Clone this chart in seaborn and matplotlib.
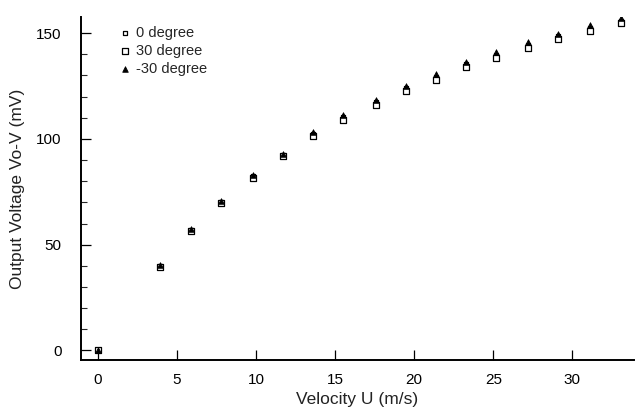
import matplotlib
matplotlib.use("Agg")
import matplotlib.pyplot as plt
from matplotlib.ticker import MultipleLocator
import numpy as np
import pandas as pd
import seaborn as sns

# Flow velocity (m/s) and sensor output (mV) for three probe angles
velocity = [0, 3.9, 5.9, 7.8, 9.8, 11.7, 13.6, 15.5, 17.6, 19.5, 21.4,
            23.3, 25.2, 27.2, 29.1, 31.1, 33.1]
volt_0deg = [0.2, 39.9, 56.9, 70.0, 82.3, 92.3, 102.2, 110.2, 117.3, 124.0,
             129.3, 135.3, 139.7, 144.3, 148.6, 152.5, 155.8]
volt_30deg = [0.0, 39.6, 56.5, 69.5, 81.6, 92.0, 101.2, 109.0, 116.0, 122.7,
              127.9, 134.0, 138.4, 143.0, 147.3, 151.2, 154.6]
volt_m30deg = [0.3, 40.4, 57.2, 70.6, 83.0, 93.0, 103.3, 111.2, 118.5, 125.2,
               130.5, 136.5, 141.0, 145.6, 149.8, 153.6, 156.9]

labels = ["0 degree", "30 degree", "-30 degree"]

df = pd.DataFrame({
    "U": velocity * 3,
    "V": volt_0deg + volt_30deg + volt_m30deg,
    "angle": [labels[0]] * len(velocity) + [labels[1]] * len(velocity)
             + [labels[2]] * len(velocity),
})

sns.set_style("ticks")
plt.rcParams["font.family"] = ["Liberation Sans", "DejaVu Sans"]

fig = plt.figure(figsize=(6.37, 4.09), dpi=100)
ax = fig.add_axes([81 / 637, 49 / 409, 553 / 637, 343 / 409])

styles = {
    "0 degree": dict(marker="s", s=9, facecolor="white", edgecolor="black", linewidth=0.9),
    "30 degree": dict(marker="s", s=16, facecolor="white", edgecolor="black", linewidth=0.9),
    "-30 degree": dict(marker="^", s=16, facecolor="black", edgecolor="black", linewidth=0.6),
}
for lab in labels:
    sub = df[df["angle"] == lab]
    sns.scatterplot(data=sub, x="U", y="V", ax=ax, label=lab, zorder=3, **styles[lab])

ax.set_xlim(-1.07, 33.9)
ax.set_ylim(-4.5, 157.6)
ax.xaxis.set_major_locator(MultipleLocator(5))
ax.yaxis.set_major_locator(MultipleLocator(50))
ax.yaxis.set_minor_locator(MultipleLocator(10))
ax.tick_params(axis="both", which="major", direction="in", length=7, width=0.9,
               labelsize=11, colors="black", pad=9)
ax.tick_params(axis="y", which="minor", direction="in", length=4, width=0.8)
ax.tick_params(axis="y", which="major", pad=14)

for side in ["top", "right"]:
    ax.spines[side].set_visible(False)
for side in ["left", "bottom"]:
    ax.spines[side].set_linewidth(1.4)
    ax.spines[side].set_color("black")

ax.set_xlabel("Velocity U (m/s)", fontsize=12.5, color="#222222", labelpad=4)
ax.set_ylabel("Output Voltage Vo-V (mV)", fontsize=12.5, color="#222222", labelpad=8)

leg = ax.legend(loc="upper left", bbox_to_anchor=(0.062, 0.99), frameon=False,
                fontsize=10.5, handlelength=0.6, handletextpad=0.4,
                labelspacing=0.25, borderaxespad=0)

fig.savefig("out.png", dpi=100, facecolor="white")
